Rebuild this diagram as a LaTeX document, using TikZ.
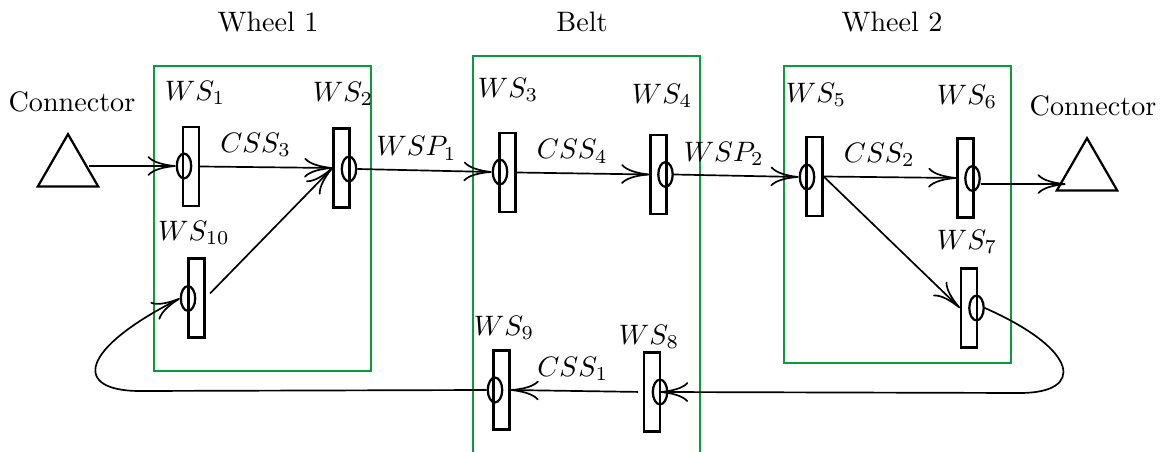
\documentclass[tikz,border=0pt]{standalone}
\usepackage{amsmath}
\usepackage{tikz}
\usetikzlibrary{positioning,shapes.geometric,arrows.meta}
\definecolor{wheelgreen}{RGB}{10,155,60}

\begin{document}
\begin{tikzpicture}[
    x=0.0125cm, y=-0.0125cm,
    wheelbox/.style={rectangle, draw=wheelgreen, semithick, inner sep=0pt},
    sensor/.style={rectangle, draw, thick, minimum width=0.2cm, minimum height=0.99cm, inner sep=0pt},
    hub/.style={ellipse, draw, thick, minimum width=0.18cm, minimum height=0.31cm, inner sep=0pt},
    plug/.style={regular polygon, regular polygon sides=3, draw, thick, minimum size=0.87cm, inner sep=0pt},
    arrow/.style={-{To[length=10pt,width=7pt]}, semithick}
]
\useasboundingbox (0,0) rectangle (1161,452);

% Frames
\node[wheelbox, minimum width=2.71cm, minimum height=3.81cm] (wheel1) at (262.5,218.5) {};
\node[wheelbox, minimum width=2.84cm, minimum height=5.3cm] (belt) at (586.5,268) {};
\node[wheelbox, minimum width=2.84cm, minimum height=3.71cm] (wheel2) at (897.5,214.5) {};
\node (twheel1) at (268,22) {Wheel 1};
\node (tbelt) at (582,22) {Belt};
\node (twheel2) at (892,22) {Wheel 2};

% Connectors
\node[plug] (conn1) at (68,169) {};
\node[plug] (conn2) at (1087,173) {};
\node (tconn1) at (72,102) {Connector};
\node (tconn2) at (1093,106) {Connector};

% Sensors
\node[sensor] (ws1) at (191,166.5) {};
\node[hub] (ws1e) at (184,166) {};
\node[sensor] (ws2) at (341.5,168) {};
\node[hub] (ws2e) at (349,169) {};
\node[sensor] (ws3) at (507.5,172.5) {};
\node[hub] (ws3e) at (500,172) {};
\node[sensor] (ws4) at (658.5,174.5) {};
\node[hub] (ws4e) at (665.5,174.5) {};
\node[sensor] (ws5) at (814.5,176.5) {};
\node[hub] (ws5e) at (807,177) {};
\node[sensor] (ws6) at (965.5,178) {};
\node[hub] (ws6e) at (972.5,178.5) {};
\node[sensor] (ws7) at (969,308) {};
\node[hub] (ws7e) at (976.5,308) {};
\node[sensor] (ws8) at (652,392) {};
\node[hub] (ws8e) at (660,392) {};
\node[sensor] (ws9) at (501.5,390) {};
\node[hub] (ws9e) at (495,390) {};
\node[sensor] (ws10) at (196.5,298) {};
\node[hub] (ws10e) at (188,298.5) {};

% Sensor names
\node (lws1) at (195,93) {$WS_1$};
\node (lws2) at (343,94) {$WS_2$};
\node (lws3) at (508,90) {$WS_3$};
\node (lws4) at (662,96) {$WS_4$};
\node (lws5) at (816,95) {$WS_5$};
\node (lws6) at (967,97) {$WS_6$};
\node (lws7) at (967,242) {$WS_7$};
\node (lws8) at (649,337) {$WS_8$};
\node (lws9) at (504,328) {$WS_9$};
\node (lws10) at (194,233) {$WS_{10}$};

\coordinate (loopL) at (140,391);
\coordinate (loopR) at (1020,393);

% Edges
\draw[arrow] (ws1e.west -| conn1.east) -- (ws1e.west);
\draw[arrow] (ws1.east) -- node[above, pos=0.42] {$CSS_3$} (ws2.west);
\draw[arrow, shorten <=0.08cm] (ws10.east) -- (ws2.west);
\draw[arrow] (ws2e.east) -- node[above, pos=0.44] {$WSP_1$} (ws3e.west);
\draw[arrow] (ws3.east) -- node[above, pos=0.42] {$CSS_4$} (ws4.west);
\draw[arrow] (ws4e.east) -- node[above, pos=0.4] {$WSP_2$} (ws5e.west);
\draw[arrow] (ws5.east) -- node[above, pos=0.42] {$CSS_2$} (ws6.west);
\draw[arrow] (ws5.east) -- (ws7.west);
\draw[arrow] ([yshift=-0.07cm]ws6e.east) -- ([yshift=-0.07cm]ws6e.east -| conn2.west);
\draw[arrow] (ws7e.east) .. controls (1080,350) and (1085,393) .. (loopR) -- (ws8e.center);
\draw[arrow, shorten <=0.06cm] (ws8.west) -- node[above, pos=0.53] {$CSS_1$} (ws9.east);
\draw[arrow] (ws9e.west) -- (loopL) .. controls (73,391) and (78,350) .. (ws10e.west);

\end{tikzpicture}
\end{document}
